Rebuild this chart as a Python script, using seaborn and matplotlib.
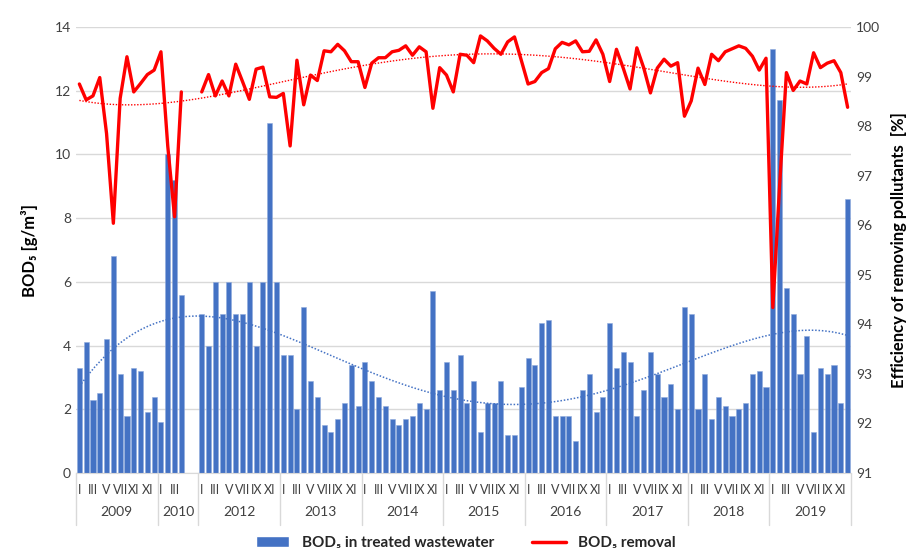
import numpy as np
import pandas as pd
import matplotlib.pyplot as plt
import seaborn as sns
import matplotlib.transforms as mtransforms
from matplotlib.lines import Line2D
from matplotlib.patches import Patch

# categories: years and how many monthly slots each has on the axis
years = ["2009", "2010", "2012", "2013", "2014", "2015", "2016", "2017", "2018", "2019"]
slots_per_year = [12, 6, 12, 12, 12, 12, 12, 12, 12, 12]

# tick labels shown for every second month (2009 really says XI twice)
month_labels = {
    "2009": ["I", "III", "V", "VII", "XI", "XI"],
    "2010": ["I", "III", ""],
}
default_labels = ["I", "III", "V", "VII", "IX", "XI"]

# BOD5 in treated wastewater [g/m3], one row per year
bod5_treated = [
    3.3, 4.1, 2.3, 2.5, 4.2, 6.8, 3.1, 1.8, 3.3, 3.2, 1.9, 2.4,   # 2009
    1.6, 10.0, 9.2, 5.6, np.nan, np.nan,                          # 2010
    5.0, 4.0, 6.0, 5.0, 6.0, 5.0, 5.0, 6.0, 4.0, 6.0, 11.0, 6.0,  # 2012
    3.7, 3.7, 2.0, 5.2, 2.9, 2.4, 1.5, 1.3, 1.7, 2.2, 3.4, 2.1,   # 2013
    3.5, 2.9, 2.4, 2.1, 1.7, 1.5, 1.7, 1.8, 2.2, 2.0, 5.7, 2.6,   # 2014
    3.5, 2.6, 3.7, 2.2, 2.9, 1.3, 2.2, 2.2, 2.9, 1.2, 1.2, 2.7,   # 2015
    3.6, 3.4, 4.7, 4.8, 1.8, 1.8, 1.8, 1.0, 2.6, 3.1, 1.9, 2.4,   # 2016
    4.7, 3.3, 3.8, 3.5, 1.8, 2.6, 3.8, 3.1, 2.4, 2.8, 2.0, 5.2,   # 2017
    5.0, 2.0, 3.1, 1.7, 2.4, 2.1, 1.8, 2.0, 2.2, 3.1, 3.2, 2.7,   # 2018
    13.3, 11.7, 5.8, 5.0, 3.1, 4.3, 1.3, 3.3, 3.1, 3.4, 2.2, 8.6, # 2019
]

# BOD5 removal efficiency [%]
bod5_removal = [
    98.85, 98.53, 98.61, 98.98, 97.85, 96.04, 98.56, 99.40, 98.69, 98.86, 99.04, 99.13,  # 2009
    99.50, 97.60, 96.17, 98.69, np.nan, np.nan,                                          # 2010
    98.69, 99.04, 98.61, 98.91, 98.61, 99.25, 98.90, 98.54, 99.15, 99.19, 98.59, 98.58,  # 2012
    98.66, 97.60, 99.33, 98.43, 99.03, 98.92, 99.52, 99.50, 99.65, 99.52, 99.30, 99.30,  # 2013
    98.78, 99.27, 99.38, 99.38, 99.50, 99.53, 99.62, 99.43, 99.60, 99.50, 98.36, 99.18,  # 2014
    99.03, 98.69, 99.45, 99.43, 99.28, 99.82, 99.72, 99.57, 99.45, 99.70, 99.80, 99.33,  # 2015
    98.85, 98.90, 99.08, 99.16, 99.56, 99.69, 99.64, 99.72, 99.50, 99.51, 99.74, 99.45,  # 2016
    98.90, 99.55, 99.17, 98.75, 99.58, 99.18, 98.67, 99.17, 99.35, 99.21, 99.28, 98.20,  # 2017
    98.51, 99.17, 98.84, 99.45, 99.32, 99.50, 99.56, 99.62, 99.57, 99.41, 99.13, 99.37,  # 2018
    94.34, 96.80, 99.08, 98.72, 98.91, 98.85, 99.48, 99.18, 99.27, 99.32, 99.08, 98.38,  # 2019
]

df = pd.DataFrame({"pos": np.arange(len(bod5_treated)),
                   "bod": bod5_treated,
                   "removal": bod5_removal})
# line segments, broken where the removal series has gaps
df["seg"] = df["removal"].isna().cumsum()

BLUE = "#4472C4"
RED = "#FF0000"
GRID = "#D9D9D9"

sns.set_style("white")
plt.rcParams["font.family"] = ["Lato", "DejaVu Sans"]

fig = plt.figure(figsize=(9.13, 5.58), dpi=100)
ax = fig.add_axes([0.0832, 0.1523, 0.8489, 0.7993])
ax2 = ax.twinx()

sns.barplot(data=df.dropna(subset=["bod"]), x="pos", y="bod", native_scale=True,
            width=0.75, color=BLUE, saturation=1, edgecolor="#8FAADC",
            linewidth=0.4, ax=ax)
sns.regplot(data=df, x="pos", y="bod", order=4, scatter=False, ci=None, ax=ax,
            line_kws=dict(color=BLUE, ls=(0, (1, 1.2)), lw=1.1))

sns.lineplot(data=df.dropna(subset=["removal"]), x="pos", y="removal", units="seg",
             estimator=None, color=RED, lw=2.4, ax=ax2)
sns.regplot(data=df, x="pos", y="removal", order=4, scatter=False, ci=None, ax=ax2,
            line_kws=dict(color=RED, ls=(0, (1, 1.2)), lw=1.0))

n = len(df)
ax.set_xlim(-0.5, n - 0.5)
ax.set_ylim(0, 14)
ax.set_yticks(range(0, 15, 2))
ax2.set_ylim(91, 100)
ax2.set_yticks(range(91, 101))

ax.yaxis.grid(True, color=GRID, lw=1)
ax.set_axisbelow(True)
for a in (ax, ax2):
    for s in ("top", "left", "right"):
        a.spines[s].set_visible(False)
    a.spines["bottom"].set_color(GRID)
    a.tick_params(length=0, labelsize=10, colors="#404040")
ax2.spines["bottom"].set_visible(False)

# month ticks and year groups
ticks, labels = [], []
start = 0
trans = mtransforms.blended_transform_factory(ax.transData, ax.transAxes)
bounds = [-0.5]
for yr, k in zip(years, slots_per_year):
    labs = month_labels.get(yr, default_labels)
    for i, lab in enumerate(labs):
        ticks.append(start + 2 * i)
        labels.append(lab)
    ax.text(start + (k - 1) / 2, -0.088, yr, transform=trans, ha="center", va="center",
            fontsize=10, color="#404040")
    start += k
    bounds.append(start - 0.5)
for b in bounds:
    ax.plot([b, b], [0, -0.117], transform=trans, color=GRID, lw=1, clip_on=False)
ax.set_xticks(ticks)
ax.set_xticklabels(labels, fontsize=9)
ax.tick_params(axis="x", pad=8)

ax.set_xlabel("")
ax.set_ylabel("BOD₅ [g/m³]", fontsize=12, fontweight="bold", color="black", labelpad=12)
ax2.set_xlabel("")
ax2.set_ylabel("Efficiency of removing pollutants  [%]", fontsize=12, fontweight="bold",
               color="black", labelpad=8)

handles = [Patch(facecolor=BLUE), Line2D([], [], color=RED, lw=2.5)]
fig.legend(handles, ["BOD₅ in treated wastewater", "BOD₅ removal"], loc="center",
           bbox_to_anchor=(0.51, 0.027), ncol=2, frameon=False,
           prop=dict(size=11, weight="bold"), handlelength=2.2, columnspacing=2.5)

fig.savefig("out.png", dpi=100)
